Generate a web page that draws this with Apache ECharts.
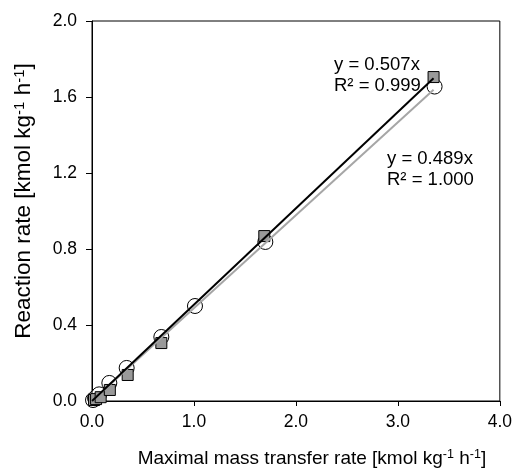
<!DOCTYPE html>
<html>
<head>
<meta charset="utf-8">
<script src="https://cdn.jsdelivr.net/npm/echarts@6/dist/echarts.min.js"></script>
<style>html,body{margin:0;padding:0;background:#fff}#c{width:515px;height:473px}</style>
</head>
<body>
<div id="c"></div>
<script>
const circleX = [0.01, 0.03, 0.07, 0.17, 0.34, 0.68, 1.01, 1.70, 3.36];
const circleY = [0.005, 0.015, 0.035, 0.095, 0.174, 0.337, 0.50, 0.837, 1.655];
const squareX = [0.02, 0.04, 0.085, 0.175, 0.35, 0.68, 1.69, 3.35];
const squareY = [0.005, 0.01, 0.02, 0.058, 0.137, 0.305, 0.868, 1.705];
const slopes = [0.507, 0.489];
const fitLabels = [['y = 0.507x', 'R² = 0.999'], ['y = 0.489x', 'R² = 1.000']];
const xTicks = [0, 1, 2, 3, 4];
const yTicks = [0, 0.4, 0.8, 1.2, 1.6, 2.0];

const font = 'Liberation Sans, Arial, sans-serif';
const chart = echarts.init(document.getElementById('c'));
const zip = (a, b) => a.map((v, i) => [v, b[i]]);
const xMax = Math.max(...squareX);
const rich = (fs, sfs, lh) => ({
  n: {fontSize: fs, fontFamily: font, color: '#000', lineHeight: lh},
  s: {fontSize: sfs, fontFamily: font, color: '#000', lineHeight: sfs, verticalAlign: 'top'}
});
chart.setOption({
  animation: false,
  grid: {left: 92, right: 13, top: 21, bottom: 72, show: true, borderColor: '#000', borderWidth: 1},
  xAxis: {
    type: 'value', min: xTicks[0], max: xTicks[xTicks.length - 1], interval: 1,
    axisLine: {lineStyle: {color: '#000', width: 1}},
    axisTick: {show: true, inside: false, length: 5, lineStyle: {color: '#000'}},
    splitLine: {show: false},
    axisLabel: {color: '#000', fontSize: 17.5, fontFamily: font, margin: 12, formatter: v => v.toFixed(1)},
    name: '{n|Maximal mass transfer rate [kmol kg}{s|-1}{n| h}{s|-1}{n|]}',
    nameLocation: 'middle', nameGap: 47,
    nameTextStyle: {rich: rich(19, 12.5, 21), padding: [0, 0, 0, 32]}
  },
  yAxis: {
    type: 'value', min: yTicks[0], max: yTicks[yTicks.length - 1], interval: 0.4,
    axisLine: {show: true, lineStyle: {color: '#000', width: 1}},
    axisTick: {show: true, inside: false, length: 6, lineStyle: {color: '#000'}},
    splitLine: {show: false},
    axisLabel: {color: '#000', fontSize: 17.5, fontFamily: font, margin: 15, formatter: v => v.toFixed(1)},
    name: '{n|Reaction rate [kmol kg}{s|-1}{n| h}{s|-1}{n|]}',
    nameLocation: 'middle', nameGap: 56,
    nameTextStyle: {rich: rich(22.5, 15, 24), padding: [0, 0, 0, 20]}
  },
  series: [
    {type: 'scatter', data: zip(circleX, circleY), symbol: 'circle', symbolSize: 15, z: 2,
     itemStyle: {color: '#fff', borderColor: '#000', borderWidth: 1, opacity: 1}},
    {type: 'scatter', data: zip(squareX, squareY), symbol: 'rect', symbolSize: 11, z: 3,
     itemStyle: {color: '#999', borderColor: '#000', borderWidth: 1, opacity: 1}},
    {type: 'line', data: [[0, 0], [xMax, slopes[1] * xMax]], symbol: 'none', z: 4,
     lineStyle: {color: '#a6a6a6', width: 2}},
    {type: 'line', data: [[0, 0], [xMax, slopes[0] * xMax]], symbol: 'none', z: 5,
     lineStyle: {color: '#000', width: 2}}
  ],
  graphic: [
    {type: 'text', left: 334, top: 54, style: {text: fitLabels[0].join('\n'), font: '18.5px ' + font, fill: '#000', lineHeight: 21}},
    {type: 'text', left: 387, top: 148, style: {text: fitLabels[1].join('\n'), font: '18.5px ' + font, fill: '#000', lineHeight: 21}}
  ]
});
</script>
</body>
</html>
